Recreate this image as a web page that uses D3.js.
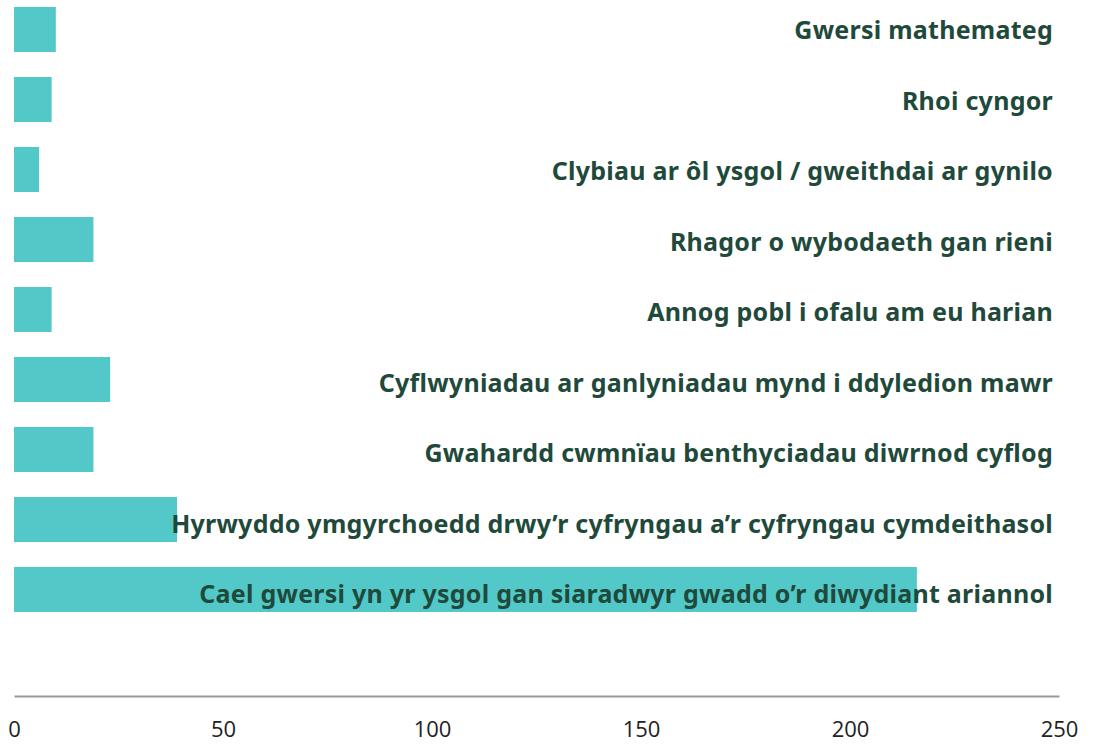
<!DOCTYPE html>
<html>
<head>
<meta charset="utf-8">
<script src="https://cdn.jsdelivr.net/npm/d3@7"></script>
<style>
  body { margin: 0; background: #fff; }
  .label { font-family: "Noto Sans", sans-serif; font-weight: bold; font-size: 25px; letter-spacing: 0.25px; fill: #1f4a3b; }
  .tick text { font-family: "Open Sans", sans-serif; font-size: 22px; fill: #222; }
</style>
</head>
<body>
<svg id="chart" width="1093" height="745"></svg>
<script>
var categories = [
  "Gwersi mathemateg",
  "Rhoi cyngor",
  "Clybiau ar ôl ysgol / gweithdai ar gynilo",
  "Rhagor o wybodaeth gan rieni",
  "Annog pobl i ofalu am eu harian",
  "Cyflwyniadau ar ganlyniadau mynd i ddyledion mawr",
  "Gwahardd cwmnïau benthyciadau diwrnod cyflog",
  "Hyrwyddo ymgyrchoedd drwy’r cyfryngau a’r cyfryngau cymdeithasol",
  "Cael gwersi yn yr ysgol gan siaradwyr gwadd o’r diwydiant ariannol"
];
var values = [10, 9, 6, 19, 9, 23, 19, 39, 216];
var ticks = [0, 50, 100, 150, 200, 250];

var svg = d3.select("#chart");
var x = d3.scaleLinear().domain([0, 250]).range([14, 1059]);
var y = d3.scaleBand().domain(categories).range([0, 619]).paddingInner(0.357).paddingOuter(0.1);

svg.selectAll(".bar")
  .data(values)
  .enter().append("rect")
    .attr("class", "bar")
    .attr("x", x(0))
    .attr("y", function(d, i) { return y(categories[i]); })
    .attr("width", function(d) { return x(d) - x(0); })
    .attr("height", y.bandwidth())
    .attr("fill", "#52c9c8");

// labels sit slightly lower as we go down
svg.selectAll(".label")
  .data(categories)
  .enter().append("text")
    .attr("class", "label")
    .attr("x", 1053)
    .attr("y", function(d, i) { return y(d) + y.bandwidth() / 2 + 9.5 + i * 0.56; })
    .attr("text-anchor", "end")
    .text(function(d) { return d; });

var axis = d3.axisBottom(x).tickValues(ticks).tickSize(0).tickPadding(25);
var g = svg.append("g").attr("transform", "translate(0,696)").call(axis);
g.select(".domain").attr("stroke", "#999").attr("stroke-width", 2);
</script>
</body>
</html>
